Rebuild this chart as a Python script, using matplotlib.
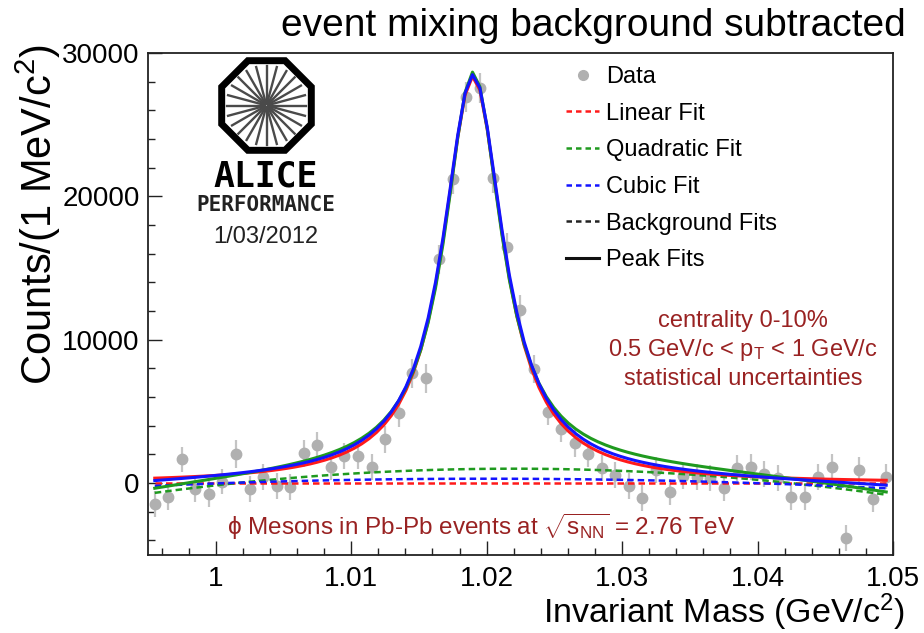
import matplotlib.pyplot as plt
import numpy as np
from matplotlib.lines import Line2D
from matplotlib.patches import RegularPolygon
from numpy.polynomial import polynomial as P

plt.rcParams['font.family'] = ['Liberation Sans', 'DejaVu Sans']
plt.rcParams['mathtext.fontset'] = 'custom'
plt.rcParams['mathtext.rm'] = 'Liberation Sans'
plt.rcParams['mathtext.it'] = 'Liberation Sans:italic'

# 1 MeV bins between 0.995 and 1.050 GeV/c^2
bin_edges = np.linspace(0.995, 1.050, 56)
mass = 0.5 * (bin_edges[:-1] + bin_edges[1:])

counts = [-1450, -960, 1650, -440, -790, 100, 2020, -440, 420, -210,
          -300, 2070, 2650, 1140, 1900, 1880, 1140, 3050, 4860, 7650,
          7300, 15600, 21200, 26900, 27550, 21250, 16450, 12100, 7950, 4980,
          3800, 2770, 2020, 1030, 560, -210, -1070, 900, -650, 500,
          400, 350, -350, 1050, 1120, 650, 370, -1000, -950, 420,
          1120, -3860, 900, -1100, 450]
errors = [900, 900, 880, 900, 900, 900, 950, 900, 900, 900,
          900, 920, 920, 900, 920, 920, 900, 950, 950, 1000,
          1000, 1000, 1050, 1050, 1050, 1050, 1000, 1000, 1000, 950,
          950, 920, 920, 900, 900, 900, 900, 900, 900, 900,
          900, 900, 900, 900, 900, 900, 900, 900, 900, 900,
          900, 900, 900, 900, 900]

# Breit-Wigner peak + polynomial background, one set per fit
fit_range = (0.9955, 1.0495)
peak_mass = 1.0190
fit_names = ['Linear Fit', 'Quadratic Fit', 'Cubic Fit']
fit_colors = ['#ff1a1a', '#1f9a1f', '#1414ff']
peak_amp = [28400, 27700, 28200]
peak_hwhm = [0.0027, 0.00255, 0.0027]
# background coefficients in t = (m - 1.02 GeV) in MeV, constant term first
bg_coeffs = [[-30, 0.0],
             [990, 9.6, -2.4],
             [300, 0.0, -0.80, 0.00114]]

xticks = [1.00, 1.01, 1.02, 1.03, 1.04, 1.05]
xticklabels = ['1', '1.01', '1.02', '1.03', '1.04', '1.05']
yticks = [0, 10000, 20000, 30000]

W, H = 924, 633


def fpos(x, y):
    return x / W, 1 - y / H


fig = plt.figure(figsize=(W / 100, H / 100), dpi=100)
ax = fig.add_axes([148 / W, 1 - 554.7 / H, 745 / W, 501.7 / H])

ax.errorbar(mass, counts, yerr=errors, fmt='o', color='#b0b0b0', ecolor='#c4c4c4',
            elinewidth=1.6, markersize=7.5, capsize=0, zorder=2)

xf = np.linspace(fit_range[0], fit_range[1], 100)
t = (xf - 1.02) * 1000
for i in range(3):
    bg = P.polyval(t, bg_coeffs[i])
    g = peak_hwhm[i]
    peak = peak_amp[i] * g ** 2 / ((xf - peak_mass) ** 2 + g ** 2)
    ax.plot(xf, bg, color=fit_colors[i], lw=1.8, dashes=(2.6, 1.6), zorder=3)
    ax.plot(xf, peak + bg, color=fit_colors[i], lw=2.2, zorder=4)

ax.set_xlim(0.995, 1.05)
ax.set_ylim(-5000, 30000)
ax.set_xticks(xticks)
ax.set_xticklabels(xticklabels)
ax.set_xticks(np.arange(0.996, 1.05, 0.002), minor=True)
ax.set_yticks(yticks)
ax.set_yticks(np.arange(-4000, 30000, 2000), minor=True)
ax.tick_params(which='both', direction='in', top=False, right=False, labelsize=20,
               width=1.0, color='#222222')
ax.tick_params(which='major', length=10)
ax.tick_params(which='minor', length=5)
ax.tick_params(axis='x', pad=8)
ax.tick_params(axis='y', pad=6)
for s in ax.spines.values():
    s.set_linewidth(1.3)
    s.set_color('#222222')

# legend
handles = [Line2D([], [], ls='none', marker='o', color='#b0b0b0', markersize=7),
           Line2D([], [], color=fit_colors[0], lw=1.8, dashes=(2.2, 1.6)),
           Line2D([], [], color=fit_colors[1], lw=1.8, dashes=(2.2, 1.6)),
           Line2D([], [], color=fit_colors[2], lw=1.8, dashes=(2.2, 1.6)),
           Line2D([], [], color='#222222', lw=1.8, dashes=(2.2, 1.6)),
           Line2D([], [], color='#111111', lw=2.2)]
labels = ['Data'] + fit_names + ['Background Fits', 'Peak Fits']
fig.legend(handles, labels, loc='upper left', bbox_to_anchor=fpos(566, 66),
           frameon=False, fontsize=17, handlelength=1.4, handletextpad=0.3,
           labelspacing=0.62, borderpad=0, borderaxespad=0)

red = '#992222'
for txt, y in [('centrality 0-10%', 321),
               (r'0.5 GeV/c < $\mathrm{p}_\mathrm{T}$ < 1 GeV/c', 350),
               ('statistical uncertainties', 379)]:
    fig.text(*fpos(743, y), txt, color=red, fontsize=17, ha='center', va='center')
fig.text(*fpos(481, 527), r'ϕ Mesons in Pb-Pb events at $\sqrt{\mathrm{s}_\mathrm{NN}}$ = 2.76 TeV',
         color=red, fontsize=17.5, ha='center', va='center')

# axis titles and header
fig.text(*fpos(905, 612), r'Invariant Mass (GeV/c$^2$)', fontsize=24.5, ha='right', va='center')
fig.text(*fpos(38, 44), r'Counts/(1 MeV/c$^2$)', fontsize=30, rotation=90,
         ha='center', va='top')
fig.text(*fpos(906, 26), 'event mixing background subtracted', fontsize=28,
         ha='right', va='center')

# ALICE logo
lax = fig.add_axes([218 / W, 1 - 154 / H, 97 / W, 97 / H])
lax.set_xlim(-1, 1)
lax.set_ylim(-1, 1)
lax.axis('off')
lax.add_patch(RegularPolygon((0, 0), 8, radius=1.0, orientation=np.pi / 8,
                             fill=False, lw=5, ec='black'))
for a in np.deg2rad(np.arange(0, 360, 15)):
    lax.plot([0.04 * np.cos(a), 0.82 * np.cos(a)], [0.04 * np.sin(a), 0.82 * np.sin(a)],
             color='#4a4a4a', lw=1.7)
fig.text(*fpos(266, 176), 'ALICE', family='DejaVu Sans Mono', weight='bold',
         fontsize=25, ha='center', va='center')
fig.text(*fpos(266, 205), 'PERFORMANCE', family='DejaVu Sans Mono', weight='bold',
         fontsize=15, ha='center', va='center', color='#222222')
fig.text(*fpos(266, 237), '1/03/2012', fontsize=17, ha='center', va='center',
         color='#222222')

fig.savefig('out.png', dpi=100)
